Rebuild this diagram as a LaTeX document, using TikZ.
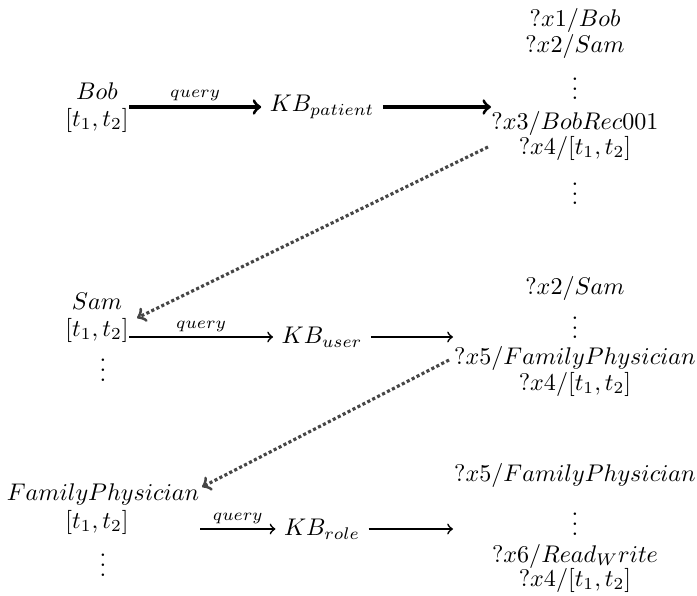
\documentclass[tikz,border=0pt]{standalone}
\usepackage[]{amsmath}
\usepackage{tikz}
\usetikzlibrary{positioning}

\begin{document}
\begin{tikzpicture}[x=0.415pt,y=-0.415pt,
    qarrow/.style={->,line width=0.7pt},
    hop/.style={->,densely dotted,line width=1.3pt,gray!55!black},
    qlabel/.style={above,font=\scriptsize,inner sep=2pt},
    tight/.style={inner sep=0pt},
    vdot/.style={inner sep=0pt}]
\useasboundingbox (0,0) rectangle (697,596);

% left column: what is asked
\node[tight] (bob) at (97,91) {$Bob$};
\node[tight] (bobt) at (97,120) {$[t_1,t_2]$};
\node[tight] (sam) at (97,301) {$Sam$};
\node[tight] (samt) at (97,330) {$[t_1,t_2]$};
\node[vdot] (samv) at (103,381) {$\smash{\vdots}$};
\node[tight] (fam) at (103,494) {$FamilyPhysician$};
\node[tight] (famt) at (97,522) {$[t_1,t_2]$};
\node[vdot] (famv) at (103,576) {$\smash{\vdots}$};

% knowledge bases
\node (kbpat) at (322,107) {$KB_{patient}$};
\node (kbuser) at (322,337) {$KB_{user}$};
\node (kbrole) at (322,529) {$KB_{role}$};

% answers
\foreach \name/\y/\txt in {a1/20/{?x1/Bob}, a2/46/{?x2/Sam}, a3/123/{?x3/BobRec001}, a4/148/{?x4/[t_1,t_2]},
    b1/288/{?x2/Sam}, b2/358/{?x5/FamilyPhysician}, b3/384/{?x4/[t_1,t_2]},
    c1/475/{?x5/FamilyPhysician}, c2/556/{?x6/Read_Write}, c3/580/{?x4/[t_1,t_2]}} {
    \node[tight] (\name) at (575,\y) {$\txt$};
}
\foreach \name/\y in {av1/100, av2/205, bv1/339, cv1/535} {
    \node[vdot] (\name) at (575,\y) {$\smash{\vdots}$};
}

\coordinate (ain) at (491,107);
\coordinate (bin) at (453,337);
\coordinate (cin) at (453,529);
\coordinate (aout) at (488,147);
\coordinate (bout) at (449,360);
\coordinate (samin) at (137,318);
\coordinate (famin) at (202,487);
\coordinate (famq) at (200,529);

\draw[qarrow,line width=1.3pt] (bobt.east |- kbpat) -- node[qlabel] {$query$} (kbpat);
\draw[qarrow,line width=1.3pt] (kbpat) -- (ain);
\draw[qarrow] (samt.east |- kbuser) -- node[qlabel] {$query$} (kbuser);
\draw[qarrow] (kbuser) -- (bin);
\draw[qarrow] (famq) -- node[qlabel] {$query$} (kbrole);
\draw[qarrow] (kbrole) -- (cin);

\draw[hop] (aout) -- (samin);
\draw[hop] (bout) -- (famin);
\end{tikzpicture}
\end{document}
